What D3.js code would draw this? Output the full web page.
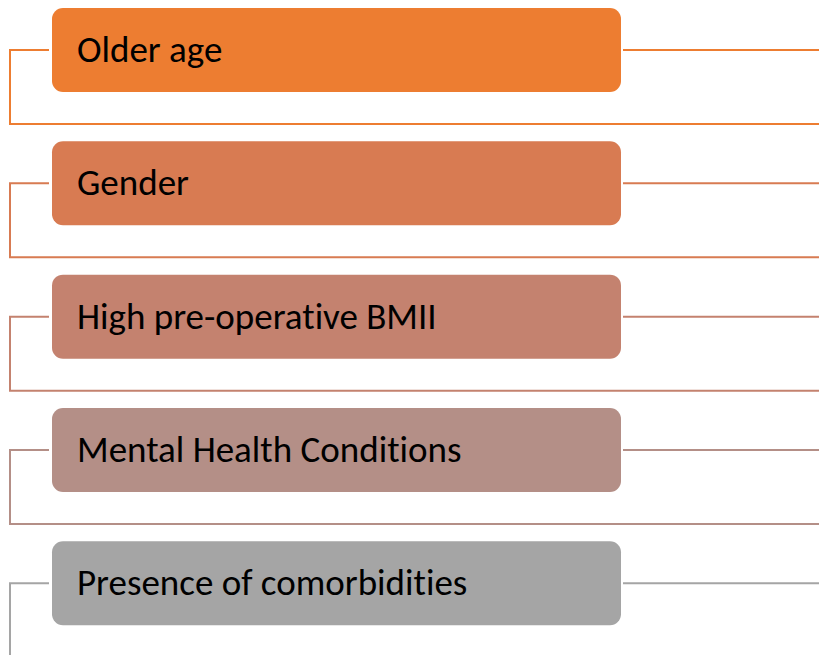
<!DOCTYPE html>
<html>
<head>
<meta charset="utf-8">
<script src="https://cdn.jsdelivr.net/npm/d3@7"></script>
<style>
  body { margin: 0; background: #fff; }
  svg { display: block; }
  text { font-variant-ligatures: none; }
</style>
</head>
<body>
<div id="chart"></div>
<script>
// factors, top to bottom
var factors = ["Older age", "Gender", "High pre-operative BMII", "Mental Health Conditions", "Presence of comorbidities"];
var colours = ["#ED7D31", "#D87B52", "#C4826F", "#B48F87", "#A5A5A5"];

var width = 819;
var height = 655;

var svg = d3.select("#chart")
    .append("svg")
    .attr("width", width)
    .attr("height", height);

// centre line of each box
var y = d3.scalePoint()
    .domain(factors)
    .range([50, 583.3]);

var colour = d3.scaleOrdinal()
    .domain(factors)
    .range(colours);

var boxX = 52, boxW = 569, boxH = 84;
var drop = 74; // distance from centre to the lower connector

var g = svg.selectAll("g.factor")
    .data(factors)
    .enter()
    .append("g")
    .attr("class", "factor");

// connector: left stub, down, then across
g.append("path")
    .attr("d", function(d) {
        var c = y(d);
        return "M49," + c + "H10V" + (c + drop) + "H" + width;
    })
    .attr("fill", "none")
    .attr("stroke", function(d) { return colour(d); })
    .attr("stroke-width", 2);

// line out to the right
g.append("line")
    .attr("x1", 623)
    .attr("x2", width)
    .attr("y1", function(d) { return y(d); })
    .attr("y2", function(d) { return y(d); })
    .attr("stroke", function(d) { return colour(d); })
    .attr("stroke-width", 2);

g.append("rect")
    .attr("x", boxX)
    .attr("y", function(d) { return y(d) - boxH / 2; })
    .attr("width", boxW)
    .attr("height", boxH)
    .attr("rx", 11)
    .attr("fill", function(d) { return colour(d); });

g.append("text")
    .attr("x", 77)
    .attr("y", function(d) { return y(d) + 12; })
    .attr("font-family", "Calibri, Carlito, 'Open Sans', sans-serif")
    .attr("font-size", 37)
    .attr("fill", "#000")
    .text(function(d) { return d; });
</script>
</body>
</html>
